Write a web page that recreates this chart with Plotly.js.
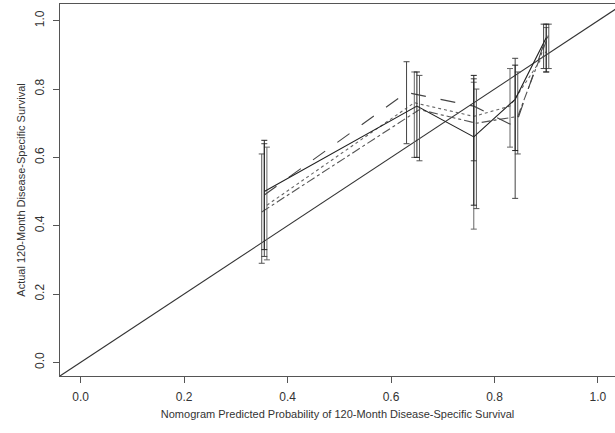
<!DOCTYPE html>
<html>
<head>
<meta charset="utf-8">
<script src="https://cdn.plot.ly/plotly-3.0.1.min.js"></script>
<style>html,body{margin:0;padding:0;background:#fff;}#chart{width:615px;height:433px;}</style>
</head>
<body>
<div id="chart"></div>
<script>
// Nomogram predicted probability (x) for each cohort's risk group
const xSolid   = [0.355, 0.650, 0.760, 0.840, 0.900];
const xLong    = [0.355, 0.630, 0.760, 0.840, 0.895];
const xDot     = [0.360, 0.645, 0.760, 0.830, 0.900];
const xDashDot = [0.350, 0.655, 0.765, 0.845, 0.905];

// Actual 120-month disease-specific survival
const ySolid   = [0.50, 0.75, 0.66, 0.77, 0.95];
const yLong    = [0.49, 0.79, 0.75, 0.69, 0.93];
const yDot     = [0.46, 0.76, 0.72, 0.75, 0.91];
const yDashDot = [0.44, 0.74, 0.70, 0.72, 0.96];

// Upper / lower confidence limits
const hiSolid   = [0.65, 0.85, 0.84, 0.87, 0.99];
const loSolid   = [0.33, 0.60, 0.46, 0.62, 0.85];
const hiLong    = [0.64, 0.88, 0.83, 0.89, 0.99];
const loLong    = [0.31, 0.64, 0.59, 0.48, 0.86];
const hiDot     = [0.63, 0.85, 0.82, 0.86, 0.98];
const loDot     = [0.30, 0.60, 0.39, 0.63, 0.85];
const hiDashDot = [0.61, 0.84, 0.80, 0.85, 0.99];
const loDashDot = [0.29, 0.59, 0.45, 0.61, 0.86];

// Reference line of ideal calibration
const idealX = [-0.1, 1.1];
const idealY = [-0.1, 1.1];

function series(x, y, hi, lo, dash, color) {
  return {
    type: 'scatter', mode: 'lines', x: x, y: y,
    line: {color: color, width: 1.1, dash: dash},
    error_y: {type: 'data', symmetric: false,
      array: y.map((v, i) => hi[i] - v),
      arrayminus: y.map((v, i) => v - lo[i]),
      color: color, thickness: 1, width: 3},
    showlegend: false, hoverinfo: 'skip'
  };
}

const traces = [
  {type: 'scatter', mode: 'lines', x: idealX, y: idealY,
   line: {color: '#333', width: 1.1}, showlegend: false, hoverinfo: 'skip'},
  series(xDot, yDot, hiDot, loDot, 'dot', '#666'),
  series(xDashDot, yDashDot, hiDashDot, loDashDot, 'dashdot', '#555'),
  series(xLong, yLong, hiLong, loLong, 'longdash', '#444'),
  series(xSolid, ySolid, hiSolid, loSolid, 'solid', '#222')
];

const axisCommon = {
  showgrid: false, zeroline: false, showline: true, mirror: true,
  linecolor: '#555', linewidth: 1, ticks: 'outside', ticklen: 6,
  tickcolor: '#555', tickwidth: 1, ticklabelstandoff: 4,
  tickfont: {family: 'Liberation Sans, Arial, sans-serif', size: 12, color: '#333'},
  tickvals: [0, 0.2, 0.4, 0.6, 0.8, 1.0],
  ticktext: ['0.0', '0.2', '0.4', '0.6', '0.8', '1.0']
};

const layout = {
  width: 615, height: 433,
  margin: {l: 60, r: 0, t: 4, b: 57},
  paper_bgcolor: '#fff', plot_bgcolor: '#fff',
  xaxis: Object.assign({}, axisCommon, {
    range: [-0.04, 1.033],
    title: {text: 'Nomogram Predicted Probability of 120-Month Disease-Specific Survival',
      font: {family: 'Liberation Sans, Arial, sans-serif', size: 11, color: '#333'}, standoff: 6}
  }),
  yaxis: Object.assign({}, axisCommon, {
    range: [-0.04, 1.049], tickangle: -90,
    title: {text: 'Actual 120-Month Disease-Specific Survival',
      font: {family: 'Liberation Sans, Arial, sans-serif', size: 11, color: '#333'}, standoff: 5}
  })
};

Plotly.newPlot('chart', traces, layout, {staticPlot: true, displayModeBar: false});
</script>
</body>
</html>
